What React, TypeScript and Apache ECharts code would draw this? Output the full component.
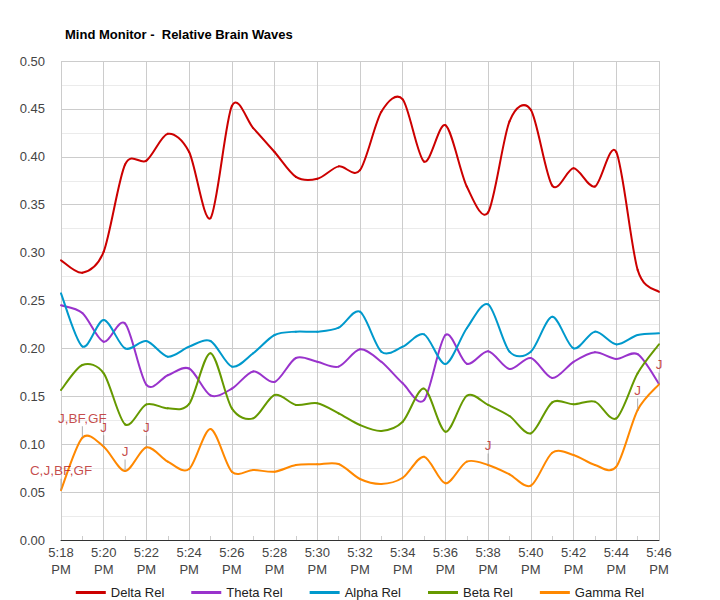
import React, { useEffect, useRef } from "react";
import * as echarts from "echarts";

const times = [
  "5:18 PM", "5:19 PM", "5:20 PM", "5:21 PM", "5:22 PM", "5:23 PM", "5:24 PM", "5:25 PM",
  "5:26 PM", "5:27 PM", "5:28 PM", "5:29 PM", "5:30 PM", "5:31 PM", "5:32 PM", "5:33 PM",
  "5:34 PM", "5:35 PM", "5:36 PM", "5:37 PM", "5:38 PM", "5:39 PM", "5:40 PM", "5:41 PM",
  "5:42 PM", "5:43 PM", "5:44 PM", "5:45 PM", "5:46 PM",
];

const deltaRel = [
  0.292, 0.279, 0.301, 0.392, 0.396, 0.424, 0.405, 0.336, 0.453, 0.43,
  0.405, 0.379, 0.377, 0.39, 0.386, 0.447, 0.46, 0.395, 0.433, 0.369,
  0.342, 0.437, 0.449, 0.37, 0.388, 0.369, 0.405, 0.282, 0.259,
];
const thetaRel = [
  0.245, 0.237, 0.207, 0.226, 0.162, 0.172, 0.179, 0.151, 0.158, 0.176,
  0.165, 0.19, 0.186, 0.181, 0.199, 0.186, 0.1635, 0.146, 0.214, 0.184,
  0.197, 0.1785, 0.19, 0.169, 0.186, 0.196, 0.189, 0.194, 0.163,
];
const alphaRel = [
  0.2575, 0.202, 0.2296, 0.2, 0.2077, 0.1914, 0.2018, 0.2077, 0.181, 0.195,
  0.214, 0.2175, 0.2175, 0.2216, 0.2383, 0.1966, 0.2018, 0.2147, 0.1837, 0.221,
  0.246, 0.1966, 0.1966, 0.233, 0.2, 0.2175, 0.2042, 0.214, 0.2157,
];
const betaRel = [
  0.1566, 0.1827, 0.174, 0.1207, 0.1416, 0.1374, 0.142, 0.195, 0.1374, 0.127,
  0.1514, 0.141, 0.1427, 0.1322, 0.12, 0.1138, 0.1235, 0.158, 0.113, 0.1506,
  0.141, 0.1294, 0.1113, 0.1437, 0.1416, 0.1444, 0.127, 0.174, 0.2043,
];
const gammaRel = [
  0.052, 0.1068, 0.0974, 0.072, 0.0968, 0.0818, 0.0741, 0.1159, 0.0713, 0.0731,
  0.0713, 0.0783, 0.079, 0.0793, 0.0637, 0.0585, 0.065, 0.087, 0.0592, 0.0818,
  0.0783, 0.0686, 0.0567, 0.0911, 0.0887, 0.0783, 0.0765, 0.1357, 0.1625,
];
const notes = [
  "C,J,BF,GF", "J,BF,GF", "J", "J", "J", "", "", "", "", "",
  "", "", "", "", "", "", "", "", "", "",
  "J", "", "", "", "", "", "", "J", "J",
];

const seriesNames = ["Delta Rel", "Theta Rel", "Alpha Rel", "Beta Rel", "Gamma Rel"];
const seriesData = [deltaRel, thetaRel, alphaRel, betaRel, gammaRel];
const seriesColors = ["#cc0000", "#9933cc", "#0099cc", "#669900", "#ff8800"];

const FONT = "'Liberation Sans', Arial, sans-serif";

function curveSeries(name: string, arr: number[], color: string, z: number) {
  const n = arr.length;
  return {
    name,
    type: "custom",
    data: arr.map((v, i) => [i, v]),
    encode: { x: 0, y: 1 },
    itemStyle: { color },
    z,
    silent: true,
    renderItem: (params: any, api: any) => {
      const i = params.dataIndex;
      if (i >= n - 1) return null;
      const c = (j: number) => {
        const k = Math.max(0, Math.min(n - 1, j));
        return api.coord([k, arr[k]]);
      };
      const p0 = c(i - 1);
      const p1 = c(i);
      const p2 = c(i + 1);
      const p3 = c(i + 2);
      const t = 0.15;
      return {
        type: "bezierCurve",
        shape: {
          x1: p1[0],
          y1: p1[1],
          x2: p2[0],
          y2: p2[1],
          cpx1: p1[0] + (p2[0] - p0[0]) * t,
          cpy1: p1[1] + (p2[1] - p0[1]) * t,
          cpx2: p2[0] - (p3[0] - p1[0]) * t,
          cpy2: p2[1] - (p3[1] - p1[1]) * t,
        },
        style: { stroke: color, lineWidth: 2, fill: "none", lineCap: "round" },
      };
    },
  };
}

export default function App() {
  const ref = useRef<HTMLDivElement>(null);
  useEffect(() => {
    if (!ref.current) return;
    const chart = echarts.init(ref.current, undefined, { renderer: "svg" });
    const noteData = notes
      .map((n, i) => (n ? { value: [i, gammaRel[i]], note: n } : null))
      .filter((d) => d !== null);
    chart.setOption({
      animation: false,
      backgroundColor: "#ffffff",
      textStyle: { fontFamily: FONT },
      title: {
        text: "Mind Monitor -  Relative Brain Waves",
        left: 60,
        top: 23,
        textStyle: { fontFamily: FONT, fontSize: 13, fontWeight: "bold", color: "#000" },
      },
      grid: { left: 61, right: 61, top: 61, bottom: 60, containLabel: false },
      legend: {
        data: seriesNames,
        left: "center",
        top: 581,
        icon: "rect",
        itemWidth: 30,
        itemHeight: 3,
        itemGap: 27,
        textStyle: { fontFamily: FONT, fontSize: 13, color: "#222" },
      },
      xAxis: {
        type: "category",
        data: times,
        boundaryGap: false,
        axisLine: { show: true, lineStyle: { color: "#333", width: 1 } },
        axisTick: { show: true, inside: true, length: 4, interval: 0, lineStyle: { color: "#ccc" } },
        axisLabel: {
          interval: 1,
          margin: 4,
          fontFamily: FONT,
          fontSize: 13,
          lineHeight: 17,
          color: "#444",
          formatter: (v: string) => v.replace(" ", "\n"),
        },
        splitLine: { show: true, interval: 1, lineStyle: { color: "#cccccc" } },
      },
      yAxis: {
        type: "value",
        min: 0,
        max: 0.5,
        interval: 0.05,
        axisLine: { show: false },
        axisTick: { show: false },
        axisLabel: {
          margin: 16,
          fontFamily: FONT,
          fontSize: 13,
          color: "#444",
          formatter: (v: number) => v.toFixed(2),
        },
        splitLine: { show: true, lineStyle: { color: "#cccccc" } },
        minorTick: { show: false, splitNumber: 2 },
        minorSplitLine: { show: true, lineStyle: { color: "#ebebeb" } },
      },
      series: [
        ...seriesNames.map((name, k) => curveSeries(name, seriesData[k], seriesColors[k], 2 + k)),
        {
          name: "notes",
          type: "scatter",
          data: noteData,
          symbol: "rect",
          symbolSize: [1, 11],
          symbolOffset: [0, -6],
          itemStyle: { color: "#999999" },
          silent: true,
          clip: false,
          z: 10,
          label: {
            show: true,
            position: "top",
            distance: 1,
            fontFamily: FONT,
            fontSize: 13.5,
            color: "#b71c1c",
            formatter: (p: any) => p.data.note,
          },
        },
      ],
    });
    return () => chart.dispose();
  }, []);
  return (
    <div
      ref={ref}
      style={{ position: "fixed", left: 0, top: 0, width: 720, height: 600, background: "#fff" }}
    />
  );
}
